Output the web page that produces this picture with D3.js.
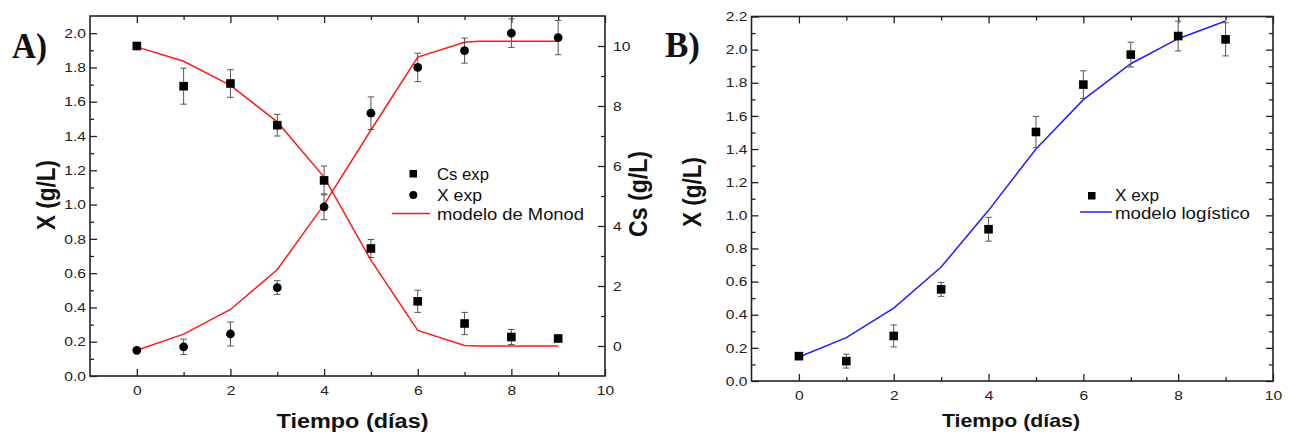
<!DOCTYPE html>
<html>
<head>
<meta charset="utf-8">
<script src="https://cdn.jsdelivr.net/npm/d3@7"></script>
<style>
  body { margin: 0; background: #fff; }
  svg { display: block; font-family: Arial, "Liberation Sans", sans-serif; }
</style>
</head>
<body>
<svg id="chart" width="1289" height="437"></svg>
<script>
// datos
var dias = [0, 1, 2, 3, 4, 5, 6, 7, 8, 9]

// panel A
var csExp = [10.0, 8.66, 8.75, 7.36, 5.52, 3.25, 1.49, 0.75, 0.30, 0.25]
var csErr = [0, 0.60, 0.46, 0.36, 0.48, 0.30, 0.37, 0.37, 0.25, 0]
var xExpA = [0.15, 0.17, 0.245, 0.516, 0.987, 1.533, 1.80, 1.898, 2.0, 1.974]
var xErrA = [0, 0.045, 0.07, 0.04, 0.075, 0.095, 0.083, 0.073, 0.083, 0.1]
var tMonod = [0, 1, 2, 3, 4, 5, 6, 7, 7.3, 8, 9]
var csMonod = [9.97, 9.49, 8.69, 7.47, 5.63, 2.86, 0.52, 0.02, 0, 0, 0]
var xMonod = [0.15, 0.244, 0.388, 0.621, 1.0, 1.435, 1.86, 1.947, 1.952, 1.952, 1.952]

// panel B
var xExpB = [0.15, 0.12, 0.272, 0.553, 0.916, 1.503, 1.789, 1.97, 2.082, 2.062]
var xErrB = [0, 0.042, 0.066, 0.042, 0.072, 0.094, 0.083, 0.075, 0.09, 0.1]
var xLogistico = [0.145, 0.262, 0.44, 0.688, 1.03, 1.40, 1.698, 1.915, 2.066, 2.173]

// ticks
var xMajor = [0, 2, 4, 6, 8, 10]
var xMinor = [-1, 1, 3, 5, 7, 9]
var csMajor = [0, 2, 4, 6, 8, 10]
var csMinor = [-1, 1, 3, 5, 7, 9]

var svg = d3.select('#chart')
var SX = 1.2  // la figura original esta estirada en horizontal

function stretchTicks (g, xpos) {
    g.selectAll('text')
        .attr('transform', 'scale(' + SX + ',1)')
        .attr('x', xpos / SX)
        .style('font-size', '13px')
        .attr('fill', '#222')
}

function drawAxes (p) {
    var g = svg.append('g')
    var x0 = p.x.range()[0], x1 = p.x.range()[1]
    var y0 = p.y.range()[0], y1 = p.y.range()[1]

    // bottom
    var bMaj = g.append('g').attr('transform', 'translate(0,' + y0 + ')')
        .call(d3.axisBottom(p.x).tickValues(xMajor).tickSizeInner(-7).tickSizeOuter(0).tickPadding(10).tickFormat(d3.format('d')))
    stretchTicks(bMaj, 0)
    g.append('g').attr('transform', 'translate(0,' + y0 + ')')
        .call(d3.axisBottom(p.x).tickValues(xMinor.filter(function(d){ return d > -1 })).tickSizeInner(-4).tickSizeOuter(0).tickFormat(''))
    // top
    g.append('g').attr('transform', 'translate(0,' + y1 + ')')
        .call(d3.axisTop(p.x).tickValues(xMajor).tickSizeInner(-7).tickSizeOuter(0).tickFormat(''))
    g.append('g').attr('transform', 'translate(0,' + y1 + ')')
        .call(d3.axisTop(p.x).tickValues(xMinor.filter(function(d){ return d > -1 })).tickSizeInner(-4).tickSizeOuter(0).tickFormat(''))

    // left
    var lMaj = g.append('g').attr('transform', 'translate(' + x0 + ',0)')
        .call(d3.axisLeft(p.y).tickValues(p.yMajor).tickSizeInner(-7).tickSizeOuter(0).tickPadding(4).tickFormat(d3.format('.1f')))
    stretchTicks(lMaj, -4)
    g.append('g').attr('transform', 'translate(' + x0 + ',0)')
        .call(d3.axisLeft(p.y).tickValues(p.yMinor).tickSizeInner(-4).tickSizeOuter(0).tickFormat(''))

    // right
    if (p.y2) {
        var rMaj = g.append('g').attr('transform', 'translate(' + x1 + ',0)')
            .call(d3.axisRight(p.y2).tickValues(csMajor).tickSizeInner(-7).tickSizeOuter(0).tickPadding(8).tickFormat(d3.format('d')))
        stretchTicks(rMaj, 8)
        g.append('g').attr('transform', 'translate(' + x1 + ',0)')
            .call(d3.axisRight(p.y2).tickValues(csMinor.filter(function(d){ return d > -1 })).tickSizeInner(-4).tickSizeOuter(0).tickFormat(''))
    } else {
        g.append('g').attr('transform', 'translate(' + x1 + ',0)')
            .call(d3.axisRight(p.y).tickValues(p.yMajor).tickSizeInner(-7).tickSizeOuter(0).tickFormat(''))
        g.append('g').attr('transform', 'translate(' + x1 + ',0)')
            .call(d3.axisRight(p.y).tickValues(p.yMinor).tickSizeInner(-4).tickSizeOuter(0).tickFormat(''))
    }

    g.selectAll('.domain').remove()
    g.selectAll('.tick line').attr('stroke', '#222').attr('stroke-width', 1.3)

    // frame
    g.append('rect')
        .attr('x', x0).attr('y', y1)
        .attr('width', x1 - x0).attr('height', y0 - y1)
        .attr('fill', 'none').attr('stroke', '#222').attr('stroke-width', 1.6)
}

function errorBars (x, y, vals, errs) {
    var g = svg.append('g').attr('stroke', '#555').attr('stroke-width', 1)
    dias.forEach(function(d, i){
        if (!errs[i]) return
        var cx = x(d), top = y(vals[i] + errs[i]), bot = y(vals[i] - errs[i])
        g.append('line').attr('x1', cx).attr('x2', cx).attr('y1', top).attr('y2', bot)
        g.append('line').attr('x1', cx - 3.2).attr('x2', cx + 3.2).attr('y1', top).attr('y2', top)
        g.append('line').attr('x1', cx - 3.2).attr('x2', cx + 3.2).attr('y1', bot).attr('y2', bot)
    })
}

function squares (x, y, vals) {
    svg.append('g').selectAll('rect')
        .data(vals)
        .enter()
        .append('rect')
        .attr('x', function(d, i){ return x(dias[i]) - 4.3 })
        .attr('y', function(d){ return y(d) - 4.3 })
        .attr('width', 8.6)
        .attr('height', 8.6)
        .attr('fill', '#000')
}

function modelLine (x, y, ts, vals, color) {
    svg.append('path')
        .datum(vals)
        .attr('fill', 'none')
        .attr('stroke', color)
        .attr('stroke-width', 1.5)
        .attr('d', d3.line()
            .x(function(d, i){ return x(ts[i]) })
            .y(function(d){ return y(d) }))
}

function label (txt, x, y, size, len, weight, anchor) {
    return svg.append('text')
        .attr('x', x).attr('y', y)
        .attr('text-anchor', anchor || 'start')
        .attr('dominant-baseline', 'central')
        .style('font-size', size + 'px')
        .style('font-weight', weight || 'normal')
        .attr('textLength', len)
        .attr('lengthAdjust', 'spacingAndGlyphs')
        .attr('fill', '#111')
        .text(txt)
}

function vlabel (txt, x, y, size, len) {
    svg.append('text')
        .attr('transform', 'translate(' + x + ',' + y + ') rotate(-90) scale(1,' + SX + ')')
        .attr('text-anchor', 'middle')
        .attr('dominant-baseline', 'central')
        .style('font-size', size + 'px')
        .style('font-weight', 'bold')
        .attr('textLength', len)
        .attr('lengthAdjust', 'spacingAndGlyphs')
        .attr('fill', '#111')
        .text(txt)
}

// ---------- Panel A ----------
var xA = d3.scaleLinear().domain([-1, 10]).range([90, 605])
var yA = d3.scaleLinear().domain([0, 2.1]).range([376, 16])
var yCs = d3.scaleLinear().domain([-1, 11]).range([376, 16])

drawAxes({
    x: xA, y: yA, y2: yCs,
    yMajor: d3.range(0, 2.01, 0.2),
    yMinor: d3.range(0.1, 2.1, 0.2)
})

modelLine(xA, yCs, tMonod, csMonod, '#ff1a1a')
modelLine(xA, yA, tMonod, xMonod, '#ff1a1a')
errorBars(xA, yCs, csExp, csErr)
errorBars(xA, yA, xExpA, xErrA)
squares(xA, yCs, csExp)
svg.append('g').selectAll('circle')
    .data(xExpA)
    .enter()
    .append('circle')
    .attr('cx', function(d, i){ return xA(dias[i]) })
    .attr('cy', function(d){ return yA(d) })
    .attr('r', 4.4)
    .attr('fill', '#000')

// leyenda A
svg.append('rect').attr('x', 409.5).attr('y', 170).attr('width', 7.5).attr('height', 7.5).attr('fill', '#000')
svg.append('circle').attr('cx', 413.3).attr('cy', 195).attr('r', 4).attr('fill', '#000')
svg.append('line').attr('x1', 392).attr('x2', 430).attr('y1', 213.5).attr('y2', 213.5).attr('stroke', '#ff1a1a').attr('stroke-width', 1.5)
label('Cs exp', 437, 174, 16, 52)
label('X exp', 437, 195, 16, 45)
label('modelo de Monod', 437, 214, 16, 147)

label('Tiempo (días)', 352.5, 421, 20, 152, 'bold', 'middle')
vlabel('X (g/L)', 46, 195, 22, 70)
vlabel('Cs (g/L)', 638, 194, 22, 86)

svg.append('text')
    .attr('x', 12).attr('y', 58)
    .style('font-family', '"Liberation Serif", "DejaVu Serif", serif')
    .style('font-size', '36px')
    .style('font-weight', 'bold')
    .attr('textLength', 35)
    .attr('lengthAdjust', 'spacingAndGlyphs')
    .attr('fill', '#111')
    .text('A)')

// ---------- Panel B ----------
var xB = d3.scaleLinear().domain([-1, 10]).range([751.5, 1273])
var yB = d3.scaleLinear().domain([0, 2.2]).range([381, 16.5])

drawAxes({
    x: xB, y: yB,
    yMajor: d3.range(0, 2.21, 0.2),
    yMinor: d3.range(0.1, 2.2, 0.2)
})

modelLine(xB, yB, dias, xLogistico, '#1f1fff')
errorBars(xB, yB, xExpB, xErrB)
squares(xB, yB, xExpB)

// leyenda B
svg.append('rect').attr('x', 1088).attr('y', 192).attr('width', 7.5).attr('height', 7.5).attr('fill', '#000')
svg.append('line').attr('x1', 1080).attr('x2', 1112).attr('y1', 212).attr('y2', 212).attr('stroke', '#1f1fff').attr('stroke-width', 1.5)
label('X exp', 1115, 195.5, 16, 44)
label('modelo logístico', 1115, 213, 16, 135)

label('Tiempo (días)', 1011, 420, 19, 138, 'bold', 'middle')
vlabel('X (g/L)', 692, 192, 22, 70)

svg.append('text')
    .attr('x', 665).attr('y', 57)
    .style('font-family', '"Liberation Serif", "DejaVu Serif", serif')
    .style('font-size', '36px')
    .style('font-weight', 'bold')
    .attr('textLength', 35)
    .attr('lengthAdjust', 'spacingAndGlyphs')
    .attr('fill', '#111')
    .text('B)')
</script>
</body>
</html>
